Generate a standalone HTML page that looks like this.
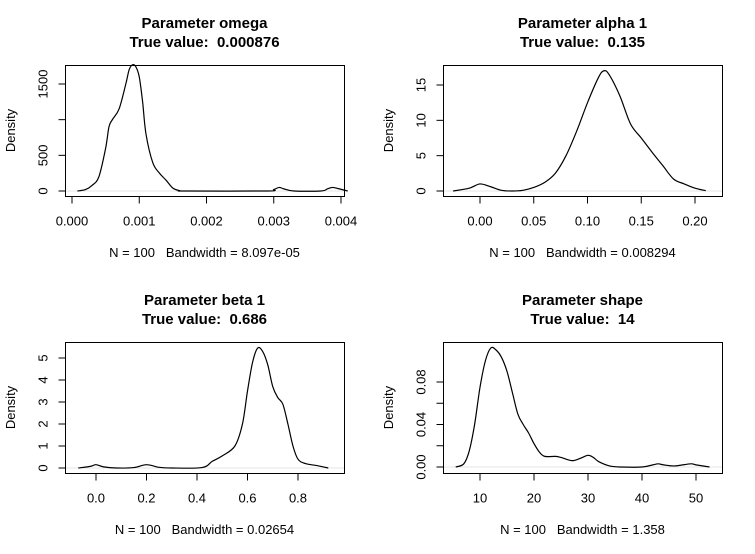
<!DOCTYPE html>
<html><head><meta charset="utf-8"><style>
html,body{margin:0;padding:0;background:#fff;}
svg{display:block;font-family:"Liberation Sans",Arial,sans-serif;}
text{white-space:pre;}
</style></head><body>
<svg id="c" width="755" height="554" viewBox="0 0 755 554"></svg>
<script>
// Panel 1: omega (x in units of 0.001)
const omegaX=[0.08,0.2,0.3,0.4,0.5,0.55,0.6,0.7,0.8,0.85,0.9,0.95,1.0,1.05,1.1,1.2,1.3,1.4,1.5,1.6,1.7,2.9,3.0,3.08,3.15,3.3,3.7,3.8,3.87,3.95,4.1];
const omegaY=[0,20,80,200,600,900,1000,1150,1500,1700,1770,1740,1600,1250,800,400,250,150,40,5,0,0,20,50,30,0,0,30,50,35,0];
const omegaTicksX=[0,1,2,3,4];
const omegaTickLabelsX=["0.000","0.001","0.002","0.003","0.004"];
const omegaTicksY=[0,500,1000,1500];
const omegaTickLabelsY=["0","500","","1500"];
// Panel 2: alpha 1
const alphaX=[-0.025,-0.01,0,0.01,0.02,0.03,0.04,0.05,0.06,0.07,0.08,0.09,0.1,0.11,0.115,0.12,0.13,0.14,0.15,0.16,0.17,0.18,0.19,0.2,0.21];
const alphaY=[0,0.4,1,0.6,0.1,0,0.1,0.5,1.2,2.5,5,8.5,12.5,16,17,16.5,13.5,9.5,7.5,5.5,3.6,1.7,1,0.4,0.05];
const alphaTicksX=[0,0.05,0.1,0.15,0.2];
const alphaTickLabelsX=["0.00","0.05","0.10","0.15","0.20"];
const alphaTicksY=[0,5,10,15];
const alphaTickLabelsY=["0","5","10","15"];
// Panel 3: beta 1
const betaX=[-0.07,-0.02,0,0.03,0.08,0.15,0.2,0.25,0.3,0.42,0.46,0.5,0.55,0.58,0.6,0.62,0.64,0.66,0.68,0.7,0.72,0.74,0.76,0.78,0.8,0.83,0.88,0.92];
const betaY=[0,0.08,0.15,0.05,0,0.02,0.15,0.03,0,0.02,0.3,0.55,1,2,3.5,4.8,5.45,5.3,4.7,3.7,3.2,2.9,2,1,0.4,0.2,0.1,0];
const betaTicksX=[0,0.2,0.4,0.6,0.8];
const betaTickLabelsX=["0.0","0.2","0.4","0.6","0.8"];
const betaTicksY=[0,1,2,3,4,5];
const betaTickLabelsY=["0","1","2","3","4","5"];
// Panel 4: shape
const shapeX=[5.5,7,8,9,10,11,12,13,14,15,16,17,18,19,20,21,22,24,25,27,28.5,30,31,32,34,36,40,42,43,44,46,49,50,52.5];
const shapeY=[0,0.003,0.015,0.04,0.075,0.1,0.112,0.11,0.103,0.09,0.07,0.05,0.04,0.032,0.022,0.014,0.01,0.01,0.009,0.006,0.008,0.011,0.009,0.005,0.001,0,0,0.002,0.003,0.002,0.001,0.003,0.002,0];
const shapeTicksX=[10,20,30,40,50];
const shapeTickLabelsX=["10","20","30","40","50"];
const shapeTicksY=[0,0.02,0.04,0.06,0.08];
const shapeTickLabelsY=["0.00","","0.04","","0.08"];

const NS="http://www.w3.org/2000/svg";
const svg=document.getElementById('c');
function mk(tag,attrs,parent,text){const e=document.createElementNS(NS,tag);for(const k in attrs)e.setAttribute(k,attrs[k]);if(text!==undefined)e.textContent=text;(parent||svg).appendChild(e);return e;}

function smooth(pts){
  let d='M'+pts[0][0].toFixed(2)+' '+pts[0][1].toFixed(2);
  for(let i=0;i<pts.length-1;i++){
    const p0=pts[Math.max(0,i-1)],p1=pts[i],p2=pts[i+1],p3=pts[Math.min(pts.length-1,i+2)];
    const c1x=p1[0]+(p2[0]-p0[0])/6,c1y=p1[1]+(p2[1]-p0[1])/6;
    const c2x=p2[0]-(p3[0]-p1[0])/6,c2y=p2[1]-(p3[1]-p1[1])/6;
    d+=` C${c1x.toFixed(2)} ${c1y.toFixed(2)} ${c2x.toFixed(2)} ${c2y.toFixed(2)} ${p2[0].toFixed(2)} ${p2[1].toFixed(2)}`;
  }
  return d;
}

const panels=[
 {key:"omega",t1:"Parameter omega",t2:"True value:  0.000876",foot:"N = 100   Bandwidth = 8.097e-05",bx:65,by:65,xs:omegaX,ys:omegaY,tx:omegaTicksX,tlx:omegaTickLabelsX,ty:omegaTicksY,tly:omegaTickLabelsY,x0:0,px0:72,x1:4,px1:341,y0:0,py0:191,y1:1500,py1:84},
 {key:"alpha",t1:"Parameter alpha 1",t2:"True value:  0.135",foot:"N = 100   Bandwidth = 0.008294",bx:443,by:65,xs:alphaX,ys:alphaY,tx:alphaTicksX,tlx:alphaTickLabelsX,ty:alphaTicksY,tly:alphaTickLabelsY,x0:0,px0:480,x1:0.2,px1:695,y0:0,py0:191,y1:15,py1:85},
 {key:"beta",t1:"Parameter beta 1",t2:"True value:  0.686",foot:"N = 100   Bandwidth = 0.02654",bx:65,by:342,xs:betaX,ys:betaY,tx:betaTicksX,tlx:betaTickLabelsX,ty:betaTicksY,tly:betaTickLabelsY,x0:0,px0:96,x1:0.8,px1:298,y0:0,py0:468,y1:5,py1:358},
 {key:"shape",t1:"Parameter shape",t2:"True value:  14",foot:"N = 100   Bandwidth = 1.358",bx:443,by:342,xs:shapeX,ys:shapeY,tx:shapeTicksX,tlx:shapeTickLabelsX,ty:shapeTicksY,tly:shapeTickLabelsY,x0:10,px0:480,x1:50,px1:696,y0:0,py0:467,y1:0.08,py1:382}
];
const BW=279,BH=131;
panels.forEach(p=>{
  const g=mk('g',{});
  
  
  const sx=v=>p.px0+(v-p.x0)*(p.px1-p.px0)/(p.x1-p.x0);
  const sy=v=>p.py0+(v-p.y0)*(p.py1-p.py0)/(p.y1-p.y0);
  const cx=p.bx+BW/2;
  const t1=mk('text',{x:cx,y:p.by-37,'text-anchor':'middle','font-size':15,'font-weight':'bold'},g,p.t1);
  
  
  const t2=mk('text',{x:cx,y:p.by-18,'text-anchor':'middle','font-size':15,'font-weight':'bold'},g,p.t2);
  
  
  const box=mk('rect',{x:p.bx+0.5,y:p.by+0.5,width:BW,height:BH,fill:'none',stroke:'#000','stroke-width':1},g);
  
  
  const xa=mk('g',{},g);
  
  
  const yb=p.by+BH+0.5;
  mk('line',{x1:sx(p.tx[0]),x2:sx(p.tx[p.tx.length-1]),y1:yb,y2:yb,stroke:'#000'},xa);
  p.tx.forEach((v,i)=>{
    mk('line',{x1:sx(v),x2:sx(v),y1:yb,y2:yb+7,stroke:'#000'},xa);
    mk('text',{x:sx(v),y:yb+29,'text-anchor':'middle','font-size':13},xa,p.tlx[i]);
  });
  const ya=mk('g',{},g);
  
  
  const xl=p.bx+0.5;
  mk('line',{x1:xl,x2:xl,y1:sy(p.ty[0]),y2:sy(p.ty[p.ty.length-1]),stroke:'#000'},ya);
  p.ty.forEach((v,i)=>{
    mk('line',{x1:xl,x2:xl-7,y1:sy(v),y2:sy(v),stroke:'#000'},ya);
    if(p.tly[i]) mk('text',{x:xl-18,y:sy(v),'text-anchor':'middle','font-size':13,transform:`rotate(-90 ${xl-18} ${sy(v)})`},ya,p.tly[i]);
  });
  const yt=mk('text',{x:p.bx-50,y:p.by+BH/2,'text-anchor':'middle','font-size':13,transform:`rotate(-90 ${p.bx-50} ${p.by+BH/2})`},g,'Density');
  
  
  const ft=mk('text',{x:cx,y:p.by+BH+61,'text-anchor':'middle','font-size':13},g,p.foot);
  
  
  const bl=mk('line',{x1:p.bx+1,x2:p.bx+BW,y1:sy(0),y2:sy(0),stroke:'#e6e6e6'},g);
  
  
  const pts=p.xs.map((x,i)=>[sx(x),sy(p.ys[i])]);
  const path=mk('path',{d:smooth(pts),fill:'none',stroke:'#000','stroke-width':1.2,'stroke-linejoin':'round'},g);
  
  
});
</script>
</body></html>
